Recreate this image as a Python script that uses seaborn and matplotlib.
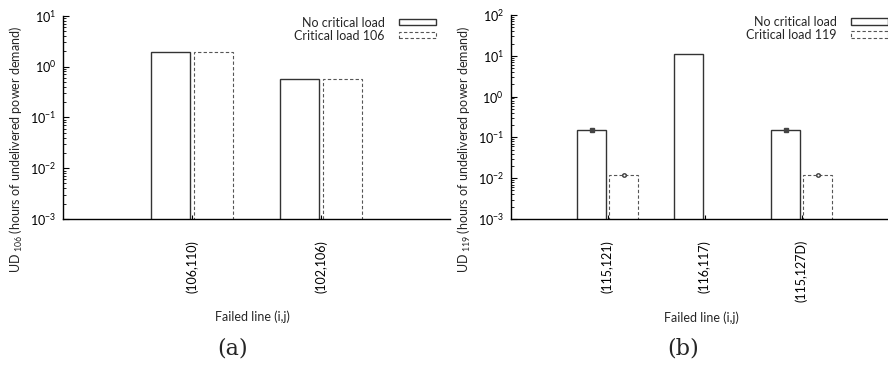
import numpy as np
import pandas as pd
import matplotlib
matplotlib.use("Agg")
import matplotlib.pyplot as plt
from matplotlib.legend import Legend
import seaborn as sns

# ---------------- data ----------------
series_names = ["No critical load", "Critical load"]

cats_a = ["(106,110)", "(102,106)"]
nocrit_a = [1.95, 0.56]
crit_a = [1.95, 0.56]
crit_label_a = "Critical load 106"

cats_b = ["(115,121)", "(116,117)", "(115,127D)"]
nocrit_b = [0.15, 11.0, 0.15]
crit_b = [0.012, np.nan, 0.012]
err_nocrit_b = [0.006, 0.0, 0.006]
err_crit_b = [0.0005, 0.0, 0.0005]
crit_label_b = "Critical load 119"

# ---------------- style ----------------
sns.set_theme(style="white")
plt.rcParams["font.family"] = ["Lato", "DejaVu Sans"]
plt.rcParams["mathtext.fontset"] = "custom"
plt.rcParams["mathtext.rm"] = "Lato"
plt.rcParams["mathtext.it"] = "Lato:italic"
plt.rcParams["mathtext.bf"] = "Lato:bold"

FS = 9
fig = plt.figure(figsize=(8.88, 3.65), dpi=100)
ax_a = fig.add_axes([63 / 888, 146 / 365, 387 / 888, 203.3 / 365])
ax_b = fig.add_axes([510.7 / 888, 146 / 365, 377.3 / 888, 204 / 365])


def draw(ax, cats, v1, v2, crit_label, ylab, ylim, xlim, e1=None, e2=None, leg_x=0.964):
    df = pd.DataFrame({
        "cat": cats * 2,
        "val": list(v1) + list(v2),
        "series": [series_names[0]] * len(cats) + [crit_label] * len(cats),
    })
    sns.barplot(data=df, x="cat", y="val", hue="series", order=cats,
                hue_order=[series_names[0], crit_label],
                palette=["white", "white"], width=0.66, gap=0.09,
                ax=ax, legend=False, log_scale=(False, True))
    conts = ax.containers
    for p in conts[0]:
        p.set_facecolor("white")
        p.set_edgecolor("#333333")
        p.set_linewidth(1.0)
        p.set_linestyle("-")
    for p in conts[1]:
        p.set_facecolor("white")
        p.set_edgecolor("#555555")
        p.set_linewidth(0.8)
        p.set_linestyle((0, (3, 2)))
    if e1 is not None:
        for cont, vals, errs, mk, mfc in ((conts[0], v1, e1, "s", "#444444"),
                                          (conts[1], v2, e2, "o", "white")):
            xs = [p.get_x() + p.get_width() / 2 for p in cont]
            vv = [v for v in vals if not np.isnan(v)]
            ee = [e for v, e in zip(vals, errs) if not np.isnan(v)]
            xs2, ys2, es2 = [], [], []
            for x, v, e in zip(xs, vv, ee):
                if e > 0:
                    xs2.append(x); ys2.append(v); es2.append(e)
            ax.errorbar(xs2, ys2, yerr=es2, fmt=mk, ms=2.5, mfc=mfc,
                        mec="#444444", ecolor="#444444", elinewidth=0.8,
                        capsize=1.5, capthick=0.8, zorder=5)
    ax.set_yscale("log")
    ax.set_ylim(*ylim)
    ax.set_xlim(*xlim)
    for s in ["top", "right"]:
        ax.spines[s].set_visible(False)
    for s in ["left", "bottom"]:
        ax.spines[s].set_color("black")
        ax.spines[s].set_linewidth(1.0)
    ax.tick_params(axis="y", which="major", direction="in", length=4, width=0.8,
                   left=True, labelsize=FS, pad=5, colors="black")
    ax.tick_params(axis="y", which="minor", direction="in", length=2, width=0.6,
                   left=True, colors="black")
    ax.yaxis.set_minor_locator(matplotlib.ticker.LogLocator(base=10, subs=np.arange(2, 10), numticks=20))
    ax.tick_params(axis="x", which="major", direction="in", length=3, width=0.8,
                   bottom=True, labelsize=FS, pad=15, colors="black")
    ax.tick_params(axis="x", which="minor", bottom=False)
    for lab in ax.get_xticklabels():
        lab.set_rotation(90)
        lab.set_va("top")
        lab.set_ha("center")
    ax.set_xlabel("Failed line (i,j)", fontsize=FS, va="top")
    ax.set_ylabel(ylab, fontsize=FS)
    # two stacked one-entry legends so the texts are right-aligned
    labels = [series_names[0], crit_label]
    row_h = 12.8 / (ax.get_position().height * 365)
    for i, (h, lab) in enumerate(zip([conts[0][0], conts[1][0]], labels)):
        leg = Legend(ax, [h], [lab],
                     loc="upper right", bbox_to_anchor=(leg_x, 0.995 - i * row_h),
                     frameon=False, markerfirst=False, fontsize=FS,
                     handlelength=3.0, handleheight=0.4, handletextpad=1.1,
                     borderpad=0, borderaxespad=0)
        ax.add_artist(leg)


draw(ax_a, cats_a, nocrit_a, crit_a, crit_label_a,
     "UD$_{\\ 106}$ (hours of undelivered power demand)", (1e-3, 1e1), (-1, 2))
draw(ax_b, cats_b, nocrit_b, crit_b, crit_label_b,
     "UD$_{\\ 119}$ (hours of undelivered power demand)", (1e-3, 1e2),
     (-1, 377.3 / 97 - 1), e1=err_nocrit_b, e2=err_crit_b, leg_x=1.0)

ax_a.yaxis.set_label_coords(-0.098, 0.34)
ax_b.yaxis.set_label_coords(-0.101, 0.34)
ax_a.xaxis.set_label_coords(0.49, -0.452)
ax_b.xaxis.set_label_coords(0.506, -0.452)

fig.text(233 / 888, 1 - 348 / 365, "(a)", fontsize=16, family=["DejaVu Serif"],
         ha="center", va="center")
fig.text(683.5 / 888, 1 - 348 / 365, "(b)", fontsize=16, family=["DejaVu Serif"],
         ha="center", va="center")

fig.savefig("out.png", dpi=100)
